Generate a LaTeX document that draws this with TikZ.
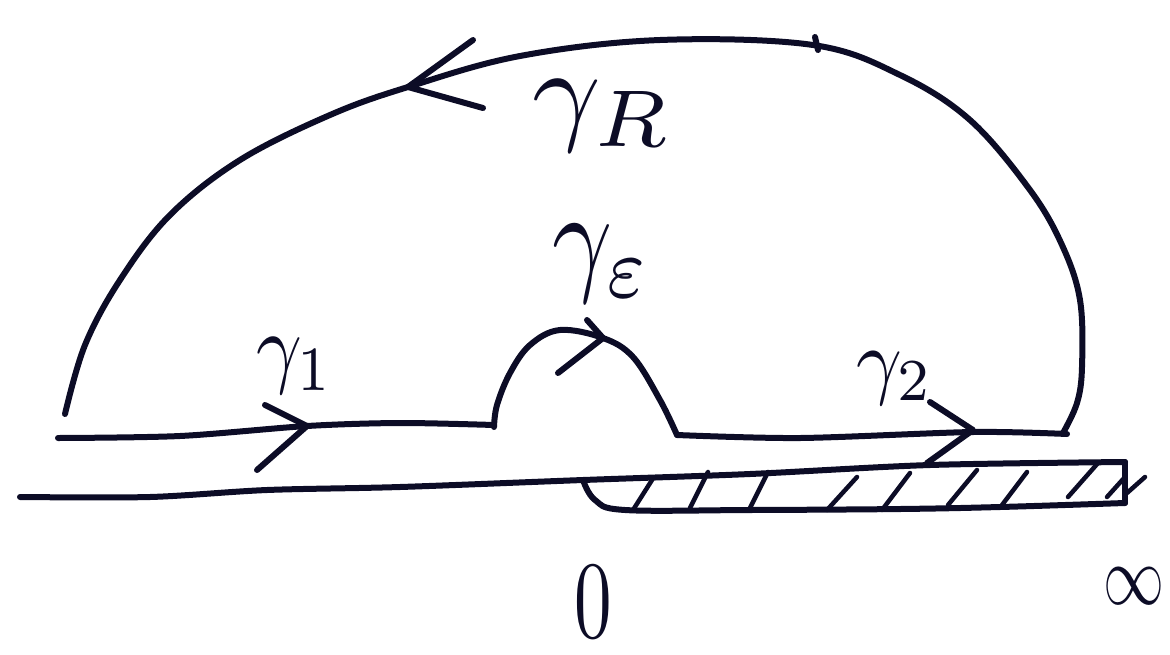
\documentclass[tikz,border=0pt]{standalone}
\usepackage{graphicx}
\usepackage{amsmath}
\definecolor{ink}{RGB}{12,12,38}
\begin{document}
\begin{tikzpicture}[x=1pt,y=-1pt,
  pen/.style={line width=6pt, line cap=round, line join=round, draw=ink},
  hatchline/.style={line width=4.5pt, line cap=round, draw=ink},
  lab/.style={inner sep=0pt, text=ink}]
\useasboundingbox (0,0) rectangle (1170,654);

% big arc gamma_R
\draw[pen] plot[smooth, tension=0.6] coordinates {(65,414) (85,345) (120,280) (170,215) (240,160) (330,115) (408,87) (520,56) (660,40) (813,45) (900,75) (970,120) (1030,190) (1062,245) (1080,300) (1082,367) (1077,403) (1063,433)};
\draw[pen] (815,37) -- (818,50);
\draw[pen] (473,40) -- (408,87) -- (483,108);

% gamma_1 segment
\draw[pen] plot[smooth] coordinates {(58,438) (180,436) (307,426) (400,423) (494,425)};
\draw[pen] (265,405) -- (307,426) -- (257,470);

% gamma_epsilon bump
\draw[pen] plot[smooth, tension=0.6] coordinates {(494,427) (497,405) (510,373) (530,345) (560,330) (603,338) (633,357) (660,400) (677,435)};
\draw[pen] (587,320) -- (603,338) -- (558,373);

% gamma_2 segment
\draw[pen] plot[smooth] coordinates {(677,435) (800,438) (973,432) (1067,434)};
\draw[pen] (930,402) -- (973,430) -- (927,463);

% real axis and branch cut strip
\draw[pen] plot[smooth] coordinates {(20,497) (150,497) (267,490) (400,487) (583,480) (750,474) (930,465) (1125,462)};
\draw[pen] (1125,462) -- (1125,503);
\draw[pen] plot[smooth, tension=0.6] coordinates {(583,480) (595,500) (625,510) (750,510) (900,509) (1000,507) (1125,503)};

% hatching
\draw[hatchline] (633,510) -- (652,480);
\draw[hatchline] (690,508) -- (708,472);
\draw[hatchline] (750,508) -- (768,472);
\draw[hatchline] (827,510) -- (857,477);
\draw[hatchline] (882,510) -- (910,473);
\draw[hatchline] (948,505) -- (977,470);
\draw[hatchline] (1002,505) -- (1027,472);
\draw[hatchline] (1068,497) -- (1098,463);
\draw[hatchline] (1107,497) -- (1125,477);
\draw[hatchline] (1127,493) -- (1145,477);

% labels
\node[lab] (gR) at (603,116) {\scalebox{12}[11.5]{$\gamma_R$}};
\node[lab] (ge) at (602,264) {\scalebox{10.5}[12.5]{$\gamma_\varepsilon$}};
\node[lab] (g1) at (295,366) {\scalebox{8}[9]{$\gamma_1$}};
\node[lab] (g2) at (895,378) {\scalebox{8}[8.5]{$\gamma_2$}};
\node[lab] (zero) at (593,602) {\scalebox{7.5}[11]{$0$}};
\node[lab] (inf) at (1134,586) {\scalebox{6.1}[8.5]{$\infty$}};
\end{tikzpicture}
\end{document}
